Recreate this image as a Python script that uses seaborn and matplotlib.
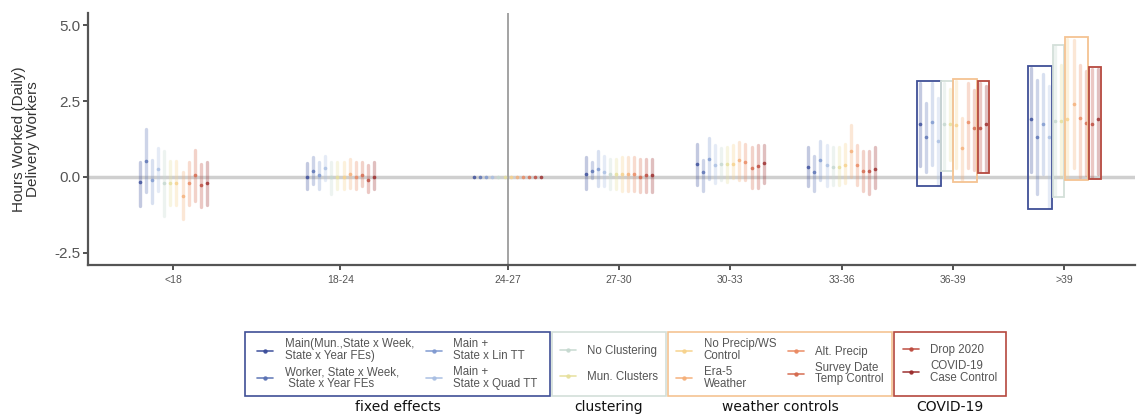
import numpy as np
import pandas as pd
import matplotlib
matplotlib.use("Agg")
import matplotlib.pyplot as plt
import seaborn as sns
from matplotlib.patches import Rectangle
from matplotlib.lines import Line2D

# ---------------- data ----------------
bins = ["<18", "18-24", "24-27", "27-30", "30-33", "33-36", "36-39", ">39"]
bin_mid = [16.5, 21.0, 25.5, 28.5, 31.5, 34.5, 37.5, 40.5]   # bin midpoint temperature

models = ["Main(Mun.,State x Week,\nState x Year FEs)",
          "Worker, State x Week,\n State x Year FEs",
          "Main +\nState x Lin TT",
          "Main +\nState x Quad TT",
          "No Clustering",
          "Mun. Clusters",
          "No Precip/WS\nControl",
          "Era-5\nWeather",
          "Alt. Precip",
          "Survey Date\nTemp Control",
          "Drop 2020",
          "COVID-19\nCase Control"]
colors = ["#3b4d9a", "#5a72b4", "#7f99d0", "#a9bfe3",
          "#c6d9d0", "#e6e09c",
          "#f7d28c", "#f5b07a", "#ea8a62", "#d56a4e",
          "#bd4a3e", "#9b2d2d"]

group_names = ["fixed effects", "clustering", "weather controls", "COVID-19"]
group_sizes = [4, 2, 4, 2]
group_edge = ["#3f4f96", "#d3dfd9", "#f5c392", "#b5483e"]

main_est = [-0.18, 0.00, 0, 0.10, 0.43, 0.32, 1.75, 1.90]
main_lo = [-0.95, -0.40, 0, -0.40, -0.25, -0.30, 0.35, 0.15]
main_hi = [0.49, 0.46, 0, 0.65, 1.08, 1.00, 3.10, 3.60]

worker_est = [0.53, 0.20, 0, 0.20, 0.17, 0.15, 1.30, 1.30]
worker_lo = [-0.50, -0.23, 0, -0.05, -0.45, -0.47, 0.15, -0.55]
worker_hi = [1.58, 0.66, 0, 0.50, 0.55, 0.68, 2.45, 3.20]

lintt_est = [-0.10, 0.05, 0, 0.25, 0.60, 0.55, 1.80, 1.75]
lintt_lo = [-0.87, -0.40, 0, -0.30, -0.07, -0.10, 0.40, 0.10]
lintt_hi = [0.55, 0.50, 0, 0.85, 1.28, 1.20, 3.10, 3.40]

quadtt_est = [0.25, 0.30, 0, 0.15, 0.40, 0.40, 1.20, 1.30]
quadtt_lo = [-0.45, -0.10, 0, -0.30, -0.20, -0.30, -0.25, -1.00]
quadtt_hi = [0.95, 0.70, 0, 0.70, 1.05, 1.05, 2.60, 3.00]

noclust_est = [-0.20, 0.00, 0, 0.10, 0.43, 0.32, 1.75, 1.85]
noclust_lo = [-1.28, -0.55, 0, -0.40, -0.10, -0.25, 0.25, -0.60]
noclust_hi = [0.86, 0.50, 0, 0.60, 0.95, 1.00, 3.10, 4.30]

munclust_est = [-0.20, 0.00, 0, 0.10, 0.43, 0.32, 1.75, 1.85]
munclust_lo = [-0.93, -0.40, 0, -0.40, -0.15, -0.25, 0.55, 0.00]
munclust_hi = [0.52, 0.50, 0, 0.60, 1.00, 1.00, 2.90, 3.70]

noprecip_est = [-0.20, 0.00, 0, 0.10, 0.43, 0.40, 1.70, 1.90]
noprecip_lo = [-0.93, -0.40, 0, -0.45, -0.05, -0.20, 0.30, -0.05]
noprecip_hi = [0.52, 0.50, 0, 0.65, 1.05, 1.10, 3.15, 4.55]

era5_est = [-0.62, 0.10, 0, 0.10, 0.55, 0.85, 0.95, 2.40]
era5_lo = [-1.38, -0.35, 0, -0.45, -0.10, 0.00, -0.10, 0.30]
era5_hi = [0.16, 0.60, 0, 0.65, 1.15, 1.70, 1.95, 4.50]

altprecip_est = [-0.20, 0.00, 0, 0.10, 0.50, 0.40, 1.82, 1.95]
altprecip_lo = [-0.93, -0.40, 0, -0.45, -0.10, -0.25, 0.30, 0.00]
altprecip_hi = [0.50, 0.50, 0, 0.65, 1.10, 1.05, 3.10, 3.70]

survey_est = [0.05, 0.05, 0, 0.00, 0.30, 0.20, 1.62, 1.78]
survey_lo = [-0.80, -0.30, 0, -0.50, -0.35, -0.45, 0.23, 0.05]
survey_hi = [0.89, 0.50, 0, 0.60, 1.00, 0.85, 2.85, 3.50]

drop2020_est = [-0.28, -0.10, 0, 0.05, 0.35, 0.20, 1.62, 1.74]
drop2020_lo = [-0.99, -0.50, 0, -0.50, -0.35, -0.55, 0.20, 0.00]
drop2020_hi = [0.43, 0.40, 0, 0.60, 1.05, 0.85, 3.10, 3.55]

covid_est = [-0.20, 0.00, 0, 0.05, 0.45, 0.25, 1.75, 1.90]
covid_lo = [-0.93, -0.40, 0, -0.50, -0.20, -0.35, 0.20, 0.10]
covid_hi = [0.50, 0.50, 0, 0.60, 1.05, 1.00, 3.00, 3.55]

est_all = [main_est, worker_est, lintt_est, quadtt_est, noclust_est, munclust_est,
           noprecip_est, era5_est, altprecip_est, survey_est, drop2020_est, covid_est]
lo_all = [main_lo, worker_lo, lintt_lo, quadtt_lo, noclust_lo, munclust_lo,
          noprecip_lo, era5_lo, altprecip_lo, survey_lo, drop2020_lo, covid_lo]
hi_all = [main_hi, worker_hi, lintt_hi, quadtt_hi, noclust_hi, munclust_hi,
          noprecip_hi, era5_hi, altprecip_hi, survey_hi, drop2020_hi, covid_hi]

boxed_bins = ["36-39", ">39"]

# ---------------- long table (lo / est / hi rows -> median + full range) ----------------
rows = []
for m, e, l, h in zip(models, est_all, lo_all, hi_all):
    for t, ev, lv, hv in zip(bin_mid, e, l, h):
        for v in (lv, ev, hv):
            rows.append({"temp": t, "model": m, "value": v})
df = pd.DataFrame(rows)

# ---------------- figure ----------------
W, H = 1140, 415
sns.set_theme(style="ticks")
plt.rcParams["font.family"] = ["Liberation Sans", "DejaVu Sans"]

fig = plt.figure(figsize=(W / 100, H / 100), dpi=100)
ax = fig.add_axes([88 / W, 1 - 265 / H, (1135 - 88) / W, (265 - 13) / H])

ax.axhline(0, color="#cfcfcf", lw=2.5, zorder=0)
ax.axvline(bin_mid[bins.index("24-27")], color="#9c9c9c", lw=1.3, zorder=0)

DODGE = 0.6
sns.pointplot(data=df, x="temp", y="value", hue="model", hue_order=models,
              palette=colors, native_scale=True, estimator="median",
              errorbar=("pi", 100), dodge=DODGE, linestyle="none", markers="o",
              markersize=2.2, markeredgewidth=0.4, alpha=0.8,
              err_kws={"linewidth": 2.4, "alpha": 0.3},
              legend=False, ax=ax)

# group boxes around the estimates in the hottest bins
native_w = np.min(np.diff(sorted(bin_mid)))
step = DODGE / (len(models) - 1)
offsets = [(-DODGE / 2 + step * i) * native_w for i in range(len(models))]
half = 0.45 * step * native_w
start = 0
for gsize, gcol in zip(group_sizes, group_edge):
    idx = list(range(start, start + gsize))
    for b in boxed_bins:
        k = bins.index(b)
        x0 = bin_mid[k] + offsets[idx[0]] - half
        x1 = bin_mid[k] + offsets[idx[-1]] + half
        y0 = min(lo_all[i][k] for i in idx) - 0.06
        y1 = max(hi_all[i][k] for i in idx) + 0.06
        ax.add_patch(Rectangle((x0, y0), x1 - x0, y1 - y0, fill=False,
                               edgecolor=gcol, lw=1.3, zorder=5))
    start += gsize

ax.set_xlim(14.2, 42.4)
ax.set_ylim(-2.9, 5.4)
ax.set_xticks(bin_mid, bins)
ax.set_yticks([-2.5, 0, 2.5, 5.0], ["-2.5", "0.0", "2.5", "5.0"])
ax.tick_params(axis="x", labelsize=7.5, labelcolor="#555555", color="#333333",
               length=3.5, width=1.2, pad=4)
ax.tick_params(axis="y", labelsize=11, labelcolor="#555555", color="#333333",
               length=3.5, width=1.2, pad=2)
ax.set_xlabel("")
ax.set_ylabel("Hours Worked (Daily)\nDelivery Workers", fontsize=11,
              color="#333333", labelpad=10, linespacing=1.0)
sns.despine(ax=ax)
for s in ("left", "bottom"):
    ax.spines[s].set_color("#555555")
    ax.spines[s].set_linewidth(1.6)

# ---------------- grouped legends below ----------------
def fx(px):
    return px / W

def fy(py):
    return 1 - py / H

frames = [(245, 550), (552, 666), (668, 892), (894, 1006)]
ncols = [2, 1, 2, 1]
lspace = [0.35, 1.2, 0.35, 0.35]
top, bot = 332, 396
start = 0
for (x0, x1), gsize, gcol, gname, nc, ls in zip(frames, group_sizes, group_edge,
                                               group_names, ncols, lspace):
    idx = list(range(start, start + gsize))
    handles = [Line2D([0], [0], color=colors[i], lw=1.2, marker="o",
                      markersize=2.2, alpha=0.9) for i in idx]
    labels = [models[i] for i in idx]
    fig.add_artist(Rectangle((fx(x0), fy(bot)), fx(x1) - fx(x0), fy(top) - fy(bot),
                             transform=fig.transFigure, fill=False,
                             edgecolor=gcol, lw=1.2))
    leg = fig.legend(handles, labels, ncol=nc, loc="center",
                     bbox_to_anchor=(fx((x0 + x1) / 2), fy((top + bot) / 2)),
                     frameon=False, fontsize=8.3, labelcolor="#555555",
                     handlelength=1.4, handletextpad=1.0, columnspacing=1.0,
                     labelspacing=ls, borderpad=0.0)
    for t in leg.get_texts():
        t.set_linespacing(0.95)
    fig.text(fx((x0 + x1) / 2), fy(407), gname, ha="center", va="center",
             fontsize=10, family="DejaVu Sans", color="#111111")
    start += gsize

fig.savefig("out.png", dpi=100)
